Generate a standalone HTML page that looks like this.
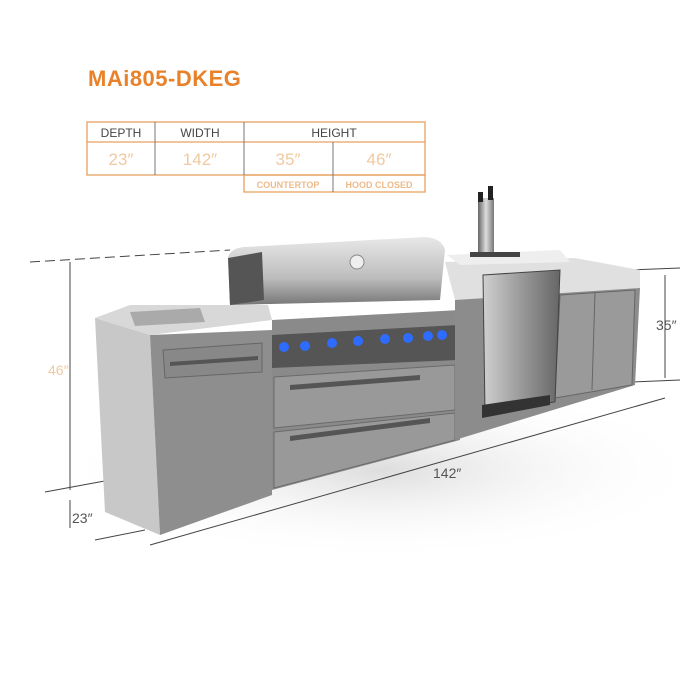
<!DOCTYPE html>
<html><head><style>
body{margin:0;width:700px;height:700px;background:#fff;font-family:"Liberation Sans",sans-serif;position:relative;overflow:hidden}
</style></head><body>
<div style="position:absolute;left:88px;top:66px;font-size:22px;font-weight:bold;color:#e8822a;letter-spacing:0.5px">MAi805-DKEG</div>
<svg width="700" height="700" style="position:absolute;left:0;top:0">
<defs>
<radialGradient id="sh" cx="50%" cy="50%" r="50%"><stop offset="0" stop-color="#ddd"/><stop offset="1" stop-color="#fff" stop-opacity="0"/></radialGradient>
<linearGradient id="hood" x1="0" y1="0" x2="0" y2="1"><stop offset="0" stop-color="#e8e8e8"/><stop offset="0.6" stop-color="#bdbdbd"/><stop offset="1" stop-color="#777"/></linearGradient>
<linearGradient id="fr" x1="0" y1="0" x2="1" y2="0"><stop offset="0" stop-color="#cfcfcf"/><stop offset="0.5" stop-color="#999"/><stop offset="1" stop-color="#666"/></linearGradient>
<linearGradient id="tw" x1="0" y1="0" x2="1" y2="0"><stop offset="0" stop-color="#666"/><stop offset="0.5" stop-color="#ddd"/><stop offset="1" stop-color="#777"/></linearGradient>
</defs>
<g stroke="#e8a060" stroke-width="1.3" fill="none">
<rect x="87" y="122" width="338" height="53"/>
<rect x="244" y="175" width="181" height="17"/>
<line x1="87" y1="142" x2="425" y2="142"/>
</g>
<g stroke="#777" stroke-width="1">
<line x1="155" y1="122" x2="155" y2="175"/><line x1="244" y1="122" x2="244" y2="175"/><line x1="333" y1="142" x2="333" y2="192"/>
</g>
<g font-family="Liberation Sans" text-anchor="middle">
<g font-size="12" fill="#444"><text x="121" y="137">DEPTH</text><text x="200" y="137">WIDTH</text><text x="334" y="137">HEIGHT</text></g>
<g font-size="17" fill="#f0c9a0"><text x="121" y="165">23″</text><text x="200" y="165">142″</text><text x="288" y="165">35″</text><text x="379" y="165">46″</text></g>
<g font-size="9" fill="#eebb88" font-weight="bold"><text x="288" y="188">COUNTERTOP</text><text x="379" y="188">HOOD CLOSED</text></g>
</g>
<ellipse cx="380" cy="470" rx="330" ry="90" fill="url(#sh)"/>
<g stroke="#444" stroke-width="1" fill="none">
<line x1="30" y1="262" x2="230" y2="250" stroke-dasharray="10,5"/>
<line x1="70" y1="262" x2="70" y2="490"/>
<line x1="70" y1="500" x2="70" y2="528"/>
<line x1="45" y1="492" x2="110" y2="480"/>
<line x1="95" y1="540" x2="145" y2="530"/>
<line x1="150" y1="545" x2="665" y2="398"/>
<line x1="665" y1="275" x2="665" y2="378"/>
<line x1="630" y1="270" x2="680" y2="268"/>
<line x1="632" y1="382" x2="680" y2="380"/>
</g>
<g font-family="Liberation Sans" font-size="14" fill="#555">
<text x="48" y="375" fill="#f0c9a0">46″</text><text x="72" y="523">23″</text><text x="433" y="478">142″</text><text x="656" y="330">35″</text>
</g>
<polygon points="95,318 130,305 268,305 272,320 150,335" fill="#d8d8d8"/>
<polygon points="130,312 200,308 205,322 135,326" fill="#aaa"/>
<polygon points="95,318 150,335 160,535 105,512" fill="#c8c8c8"/>
<polygon points="150,335 272,330 272,495 160,535" fill="#8e8e8e"/>
<polygon points="163,350 262,343 262,372 165,378" fill="#888" stroke="#666"/>
<polygon points="170,362 258,356 258,360 170,366" fill="#555"/>
<polygon points="272,320 460,310 460,440 272,490" fill="#8a8a8a"/>
<polygon points="272,335 458,325 458,360 272,368" fill="#555"/>
<g fill="#2e6cff"><circle cx="284" cy="347" r="5"/><circle cx="305" cy="346" r="5"/><circle cx="332" cy="343" r="5"/><circle cx="358" cy="341" r="5"/><circle cx="385" cy="339" r="5"/><circle cx="408" cy="338" r="5"/><circle cx="428" cy="336" r="5"/><circle cx="442" cy="335" r="5"/></g>
<polygon points="274,377 455,365 455,410 274,428" fill="#999" stroke="#6a6a6a"/>
<polygon points="274,432 455,413 455,440 274,488" fill="#999" stroke="#6a6a6a"/>
<polygon points="290,385 420,375 420,380 290,390" fill="#555"/>
<polygon points="290,436 430,418 430,423 290,441" fill="#555"/>
<path d="M228,258 Q230,248 245,247 L425,237 Q442,238 445,250 L440,300 L230,305 Z" fill="url(#hood)"/>
<polygon points="228,258 262,252 264,300 230,305" fill="#555"/>
<circle cx="357" cy="262" r="7" fill="#eee" stroke="#888"/>
<polygon points="445,262 575,258 640,270 640,290 455,300" fill="#e0e0e0"/>
<polygon points="447,255 560,250 570,262 460,265" fill="#eee"/>
<rect x="478" y="198" width="16" height="57" fill="url(#tw)"/>
<rect x="470" y="252" width="50" height="5" fill="#444"/>
<rect x="488" y="186" width="5" height="14" fill="#222"/>
<rect x="478" y="192" width="5" height="10" fill="#222"/>
<polygon points="455,300 640,288 635,385 455,440" fill="#8c8c8c"/>
<polygon points="560,295 635,290 632,385 555,398" fill="#9a9a9a" stroke="#666"/>
<line x1="595" y1="292" x2="592" y2="390" stroke="#666"/>
<polygon points="483,275 560,270 555,402 485,412" fill="url(#fr)" stroke="#444"/>
<polygon points="482,405 550,395 550,405 482,418" fill="#333"/>
</svg>
</body></html>
